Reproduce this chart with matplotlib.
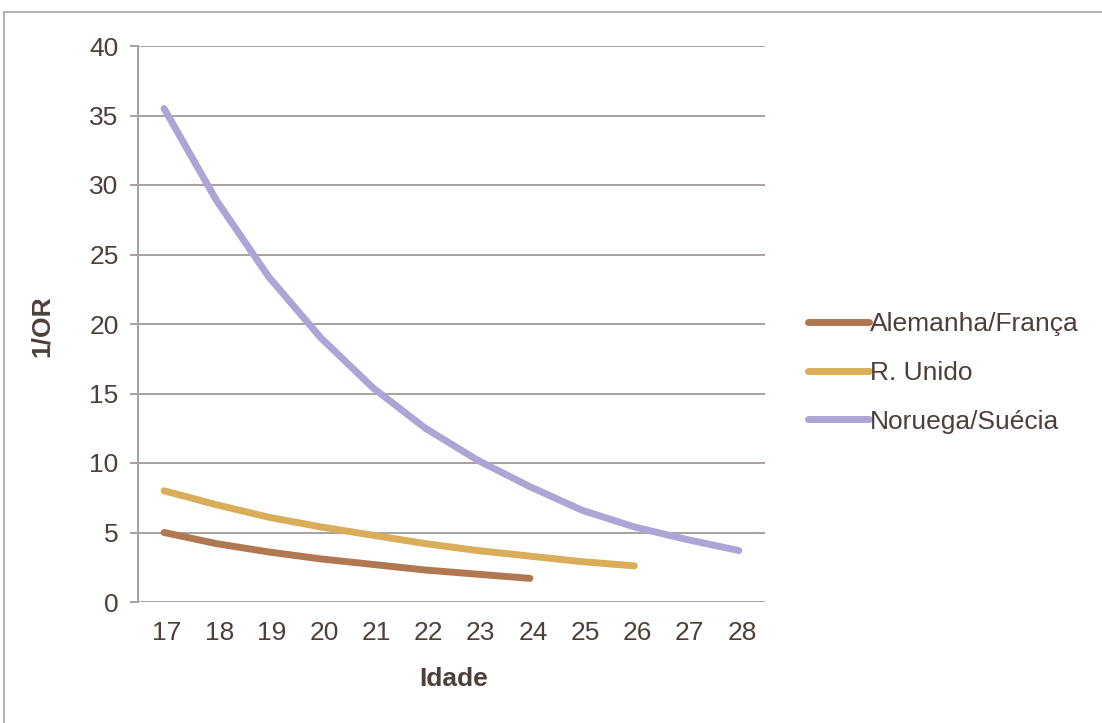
import matplotlib.pyplot as plt
from matplotlib.patches import Rectangle
from matplotlib.transforms import ScaledTranslation

# 1/OR por idade para cada grupo de países
idade = [17, 18, 19, 20, 21, 22, 23, 24, 25, 26, 27, 28]
alemanha_franca = [5.0, 4.2, 3.6, 3.1, 2.7, 2.3, 2.0, 1.7]
reino_unido = [8.0, 7.0, 6.1, 5.4, 4.8, 4.2, 3.7, 3.3, 2.9, 2.6]
noruega_suecia = [35.5, 28.9, 23.4, 19.0, 15.4, 12.5, 10.2, 8.3, 6.6, 5.4, 4.5, 3.7]

series = [
    ("Alemanha/França", alemanha_franca, "#B07850"),
    ("R. Unido", reino_unido, "#D9AD5A"),
    ("Noruega/Suécia", noruega_suecia, "#ACA5D6"),
]

txt = "#4D3F3A"
grid = "#A8A19F"
fs = 19
plt.rcParams["font.family"] = ["Liberation Sans", "DejaVu Sans"]

fig = plt.figure(figsize=(11.02, 7.23), dpi=100)
fig.patches.append(Rectangle((4 / 1102, -0.1), 1.2, 1 - 12 / 723 + 0.1,
                             transform=fig.transFigure, fill=False,
                             edgecolor=grid, linewidth=1.2))
ax = fig.add_axes([138 / 1102, 1 - 602 / 723, (765 - 138) / 1102, (602 - 46) / 723])

for nome, vals, cor in series:
    ax.plot(idade[:len(vals)], vals, color=cor, linewidth=5,
            solid_capstyle="round", solid_joinstyle="round", label=nome)

ax.set_xlim(16.5, 28.5)
ax.set_ylim(0, 40)
ax.set_xticks(idade)
ax.set_yticks(range(0, 41, 5))
ax.yaxis.grid(True, color=grid, linewidth=1.4)
ax.set_axisbelow(True)
for s in ["top", "right", "bottom"]:
    ax.spines[s].set_visible(False)
ax.spines["left"].set_color(grid)
ax.spines["left"].set_linewidth(1.4)

ax.tick_params(axis="y", length=6, width=1.4, color=grid, pad=8,
               labelsize=fs, labelcolor=txt)
ax.tick_params(axis="x", length=0, pad=14, labelsize=fs, labelcolor=txt)
shift = ScaledTranslation(3 / 100, 0, fig.dpi_scale_trans)
for lbl in ax.get_xticklabels():
    lbl.set_transform(lbl.get_transform() + shift)

fig.text(454 / 1102, 1 - 679 / 723, "Idade", ha="center", va="center",
         fontsize=fs, fontweight="bold", color=txt)
fig.text(42 / 1102, 1 - 326 / 723, "1/OR", ha="center", va="center",
         rotation=90, fontsize=fs, fontweight="bold", color=txt)

leg = fig.legend(loc="center left", bbox_to_anchor=(808 / 1102, 1 - 373 / 723),
                 frameon=False, fontsize=fs, handlelength=2.3,
                 handletextpad=0.05, labelspacing=0.93, borderpad=0,
                 borderaxespad=0)
for t in leg.get_texts():
    t.set_color(txt)

fig.savefig("out.png", dpi=100)
